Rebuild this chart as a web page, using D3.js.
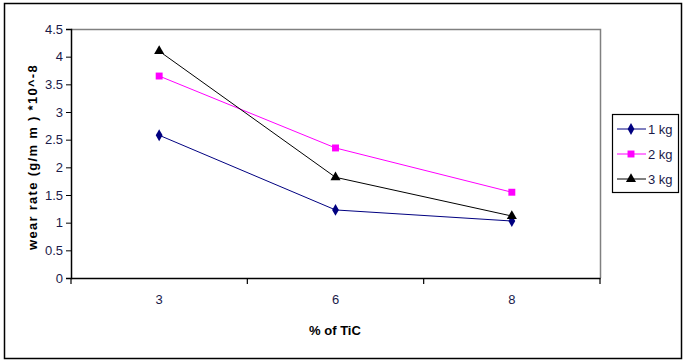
<!DOCTYPE html>
<html><head><meta charset="utf-8">
<script src="https://cdn.jsdelivr.net/npm/d3@7"></script>
<style>body{margin:0;background:#fff}svg{display:block;font-family:"Liberation Sans",Arial,sans-serif}</style>
</head><body>
<svg id="c" width="686" height="363"></svg>
<script>
const categories = ["3","6","8"];
const series1kg = [2.58, 1.23, 1.03];
const series2kg = [3.65, 2.35, 1.55];
const series3kg = [4.10, 1.82, 1.12];
const seriesNames = ["1 kg","2 kg","3 kg"];
const yTicks = [0,0.5,1,1.5,2,2.5,3,3.5,4,4.5];

const svg = d3.select("#c");
const m = {l:71, r:600, t:29, b:278};
svg.append("rect").attr("x",4.5).attr("y",3.5).attr("width",677).attr("height",355)
  .attr("fill","#fff").attr("stroke","#000").attr("stroke-width",1.5);

const x = d3.scaleBand().domain(categories).range([m.l,m.r]);
const y = d3.scaleLinear().domain([0,4.5]).range([m.b,m.t]);

svg.append("path").attr("d",`M${m.l},${m.t+0.5}H${m.r+0.5}V${m.b}`).attr("fill","none").attr("stroke","#808080").attr("stroke-width",1.5);

const ya = svg.append("g").attr("transform",`translate(${m.l},0)`)
  .call(d3.axisLeft(y).tickValues(yTicks).tickSize(5).tickPadding(3).tickFormat(d=>String(d)));
ya.select(".domain").attr("stroke","#000").attr("stroke-width",1.5);
ya.selectAll("text").attr("font-size",13).attr("fill","#1a1a4a").attr("font-family","Liberation Sans, Arial");

const xa = svg.append("g").attr("transform",`translate(0,${m.b})`)
  .call(d3.axisBottom(x).tickSize(0).tickPadding(17));
xa.select(".domain").attr("stroke","#000").attr("stroke-width",1.5);
xa.selectAll("text").attr("font-size",13).attr("fill","#1a1a4a").attr("font-family","Liberation Sans, Arial");
const bounds = [m.l, ...categories.map(c=>x(c)+x.bandwidth())];
xa.selectAll("line.bt").data(bounds).enter().append("line").attr("class","bt")
  .attr("x1",d=>d).attr("x2",d=>d).attr("y1",0).attr("y2",6).attr("stroke","#000").attr("stroke-width",1.2);

svg.append("text").attr("x",335).attr("y",335).attr("text-anchor","middle")
  .attr("font-size",13).attr("font-weight","bold").text("% of TiC");
svg.append("text").attr("transform","translate(37,157) rotate(-90)").attr("text-anchor","middle")
  .attr("font-size",13).attr("font-weight","bold").attr("letter-spacing",1.3).text("wear rate (g/m m ) *10^-8");

const cx = c => x(c)+x.bandwidth()/2;
const colors = ["#000080","#FF00FF","#000000"];
const data = [series1kg, series2kg, series3kg];
const symbols = [d3.symbolDiamond, d3.symbolSquare, d3.symbolTriangle];
const sizes = [40, 48, 44];
const line = d3.line().x((d,i)=>cx(categories[i])).y(d=>y(d));

data.forEach((s,k)=>{
  svg.append("path").datum(s).attr("d",line).attr("fill","none").attr("stroke",colors[k]).attr("stroke-width",1);
});
data.forEach((s,k)=>{
  svg.selectAll(null).data(s).enter().append("path")
    .attr("transform",(d,i)=>`translate(${cx(categories[i])},${y(d)})`)
    .attr("d",d3.symbol().type(symbols[k]).size(sizes[k])).attr("fill",colors[k]);
});

const lg = svg.append("g");
lg.append("rect").attr("x",612.5).attr("y",114.5).attr("width",66).attr("height",78)
  .attr("fill","#fff").attr("stroke","#000").attr("stroke-width",1.2);
const ly = [129,154,179];
seriesNames.forEach((n,k)=>{
  lg.append("line").attr("x1",617).attr("x2",646).attr("y1",ly[k]).attr("y2",ly[k]).attr("stroke",colors[k]);
  lg.append("path").attr("transform",`translate(631,${ly[k]})`).attr("d",d3.symbol().type(symbols[k]).size(sizes[k])).attr("fill",colors[k]);
  lg.append("text").attr("x",648).attr("y",ly[k]+5).attr("font-size",13).attr("fill","#1a1a4a").text(n);
});
</script>
</body></html>
